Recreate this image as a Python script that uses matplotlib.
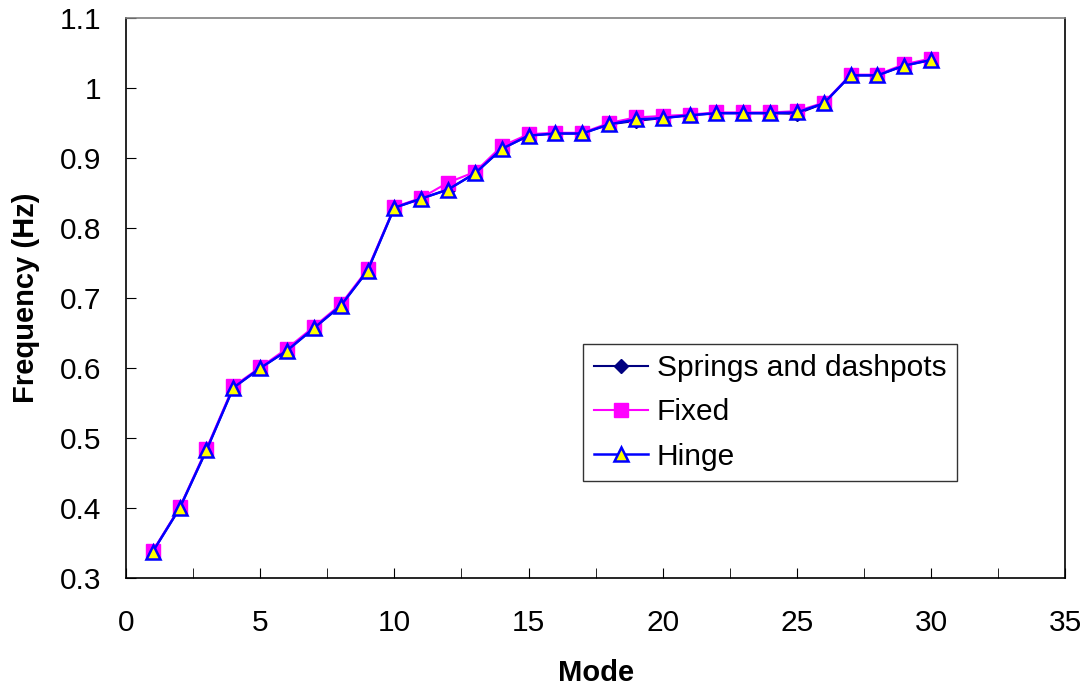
import numpy as np
import matplotlib
matplotlib.use("Agg")
import matplotlib.pyplot as plt

plt.rcParams['font.family'] = ['Liberation Sans', 'DejaVu Sans']

# data
modes = list(range(1, 31))
springs = [0.338, 0.400, 0.483, 0.572, 0.600, 0.625, 0.657, 0.689, 0.739, 0.829,
           0.842, 0.855, 0.878, 0.913, 0.932, 0.935, 0.935, 0.948, 0.953, 0.957,
           0.961, 0.964, 0.964, 0.964, 0.963, 0.978, 1.018, 1.018, 1.032, 1.040]
fixed = [0.339, 0.401, 0.485, 0.574, 0.601, 0.628, 0.659, 0.691, 0.741, 0.830,
         0.843, 0.865, 0.880, 0.917, 0.934, 0.936, 0.936, 0.950, 0.958, 0.960,
         0.962, 0.965, 0.965, 0.965, 0.967, 0.979, 1.019, 1.019, 1.034, 1.042]
hinge = [0.338, 0.400, 0.483, 0.572, 0.600, 0.625, 0.657, 0.689, 0.739, 0.829,
         0.842, 0.855, 0.878, 0.913, 0.932, 0.935, 0.935, 0.948, 0.955, 0.957,
         0.961, 0.964, 0.964, 0.964, 0.965, 0.978, 1.018, 1.018, 1.032, 1.040]

fig = plt.figure(figsize=(10.86, 6.9), dpi=100)
ax = fig.add_axes([0.116, 0.162, 0.865, 0.812])

ax.plot(modes, springs, color='#000080', lw=1.5, marker='D', ms=7,
        mfc='#000080', mec='#000080', label='Springs and dashpots')
ax.plot(modes, fixed, color='#FF00FF', lw=1.5, marker='s', ms=10,
        mfc='#FF00FF', mec='#FF00FF', label='Fixed')
ax.plot(modes, hinge, color='#0000FF', lw=1.8, marker='^', ms=10,
        mfc='#FFFF00', mec='#0000FF', mew=1.8, label='Hinge')

ax.set_xlim(0, 35)
ax.set_ylim(0.3, 1.1)
ax.set_xticks(np.arange(0, 36, 5))
ax.set_xticks(np.arange(0, 35.1, 2.5), minor=True)
ax.set_yticks(np.arange(0.3, 1.11, 0.1))
ax.set_yticklabels(['0.3', '0.4', '0.5', '0.6', '0.7', '0.8', '0.9', '1', '1.1'])

ax.tick_params(axis='both', which='both', direction='in', labelsize=21.5)
ax.tick_params(axis='y', which='major', length=7, pad=18)
ax.tick_params(axis='x', which='major', length=7, pad=22)
ax.tick_params(axis='x', which='minor', length=7)

for s in ['left', 'bottom', 'right']:
    ax.spines[s].set_color('black')
ax.spines['top'].set_color('#808080')
for s in ax.spines.values():
    s.set_linewidth(1.2)

ax.set_xlabel('Mode', fontsize=21, fontweight='bold', labelpad=16)
ax.set_ylabel('Frequency (Hz)', fontsize=21, fontweight='bold', labelpad=14)

leg = ax.legend(loc='lower left', bbox_to_anchor=(0.487, 0.173), fontsize=21.5,
                frameon=True, fancybox=False, shadow=False, handlelength=1.8,
                handletextpad=0.3, borderpad=0.35, labelspacing=0.55,
                borderaxespad=0)
leg.get_frame().set_edgecolor('black')
leg.get_frame().set_linewidth(1.0)

fig.savefig('out.png', dpi=100)
